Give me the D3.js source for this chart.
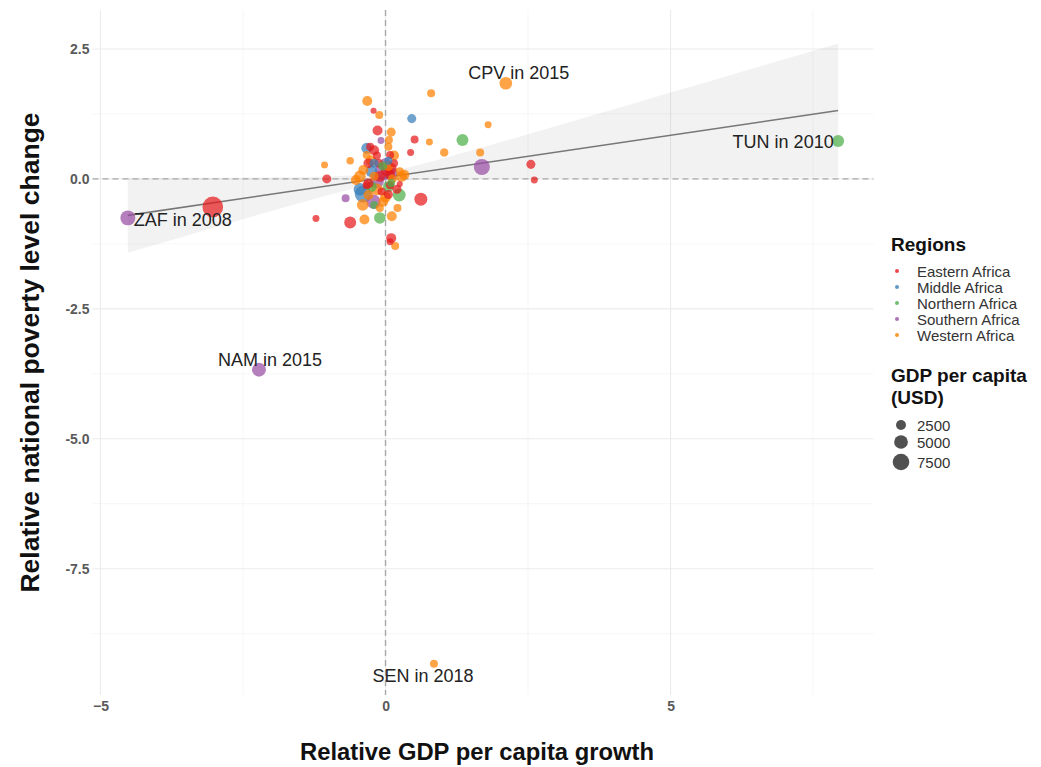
<!DOCTYPE html>
<html>
<head>
<meta charset="utf-8">
<script src="https://cdn.jsdelivr.net/npm/d3@7"></script>
<style>
  html, body { margin: 0; padding: 0; background: #fff; }
  svg { display: block; font-family: "Liberation Sans", Arial, Helvetica, sans-serif; }
</style>
</head>
<body>
<svg id="chart" width="1041" height="767"></svg>
<script>
// Regions and their palette (ColorBrewer Set1)
const regions = ["Eastern Africa", "Middle Africa", "Northern Africa", "Southern Africa", "Western Africa"];
const regionColors = ["#E41A1C", "#377EB8", "#4DAF4A", "#984EA3", "#FF7F00"];

// Each row: [relative GDP per capita growth, relative poverty change, GDP per capita (USD)]
const easternAfrica = [
  [-3.03, -0.54, 12000], [-0.21, 1.31, 800], [-0.14, 0.93, 2500], [0.51, 0.76, 1500],
  [0.44, 0.51, 1100], [2.55, 0.28, 2000], [2.61, -0.02, 1100], [-1.03, 0.00, 2000],
  [-1.22, -0.76, 1100], [-0.62, -0.84, 3700], [0.62, -0.39, 4400], [0.10, -1.14, 2500],
  [0.08, -1.21, 1100], [-0.27, 0.62, 1500], [-0.30, -0.09, 2500], [-0.07, -0.24, 1500],
  [0.25, -0.10, 800], [0.08, -0.12, 1500], [0.02, 0.17, 3700], [0.08, 0.08, 2500],
  [0.08, 0.46, 1500], [-0.33, -0.12, 1500], [-0.12, 0.30, 2000], [0.15, 0.30, 1500],
  [-0.15, 0.45, 1500], [-0.10, 0.05, 3000], [0.10, 0.20, 3000], [-0.20, 0.55, 2500],
  [0.05, -0.30, 2000], [-0.30, 0.30, 2500], [0.20, -0.20, 2000]
];
const middleAfrica = [
  [0.46, 1.16, 2000], [-0.33, 0.59, 3000], [-0.39, -0.29, 8000], [-0.20, 0.30, 2000],
  [0.05, 0.35, 1500], [-0.25, 0.15, 3500], [-0.45, -0.20, 4000]
];
const northernAfrica = [
  [7.94, 0.73, 3700], [1.35, 0.75, 3700], [0.24, -0.31, 4400], [-0.10, -0.75, 3400],
  [0.10, -0.08, 1500], [-0.20, -0.50, 1500], [-0.05, 0.25, 2000], [0.05, -0.15, 3000],
  [-0.25, -0.15, 3000]
];
const southernAfrica = [
  [-4.52, -0.75, 6000], [-2.22, -3.67, 5200], [1.69, 0.23, 7000], [-0.70, -0.37, 1500],
  [-0.08, 0.74, 1100], [-0.04, 0.14, 8000], [-0.21, -0.44, 5500], [0.00, 0.30, 3000],
  [-0.15, -0.05, 5000], [0.10, 0.10, 4500]
];
const westernAfrica = [
  [2.11, 1.84, 4200], [0.85, -9.33, 1500], [-0.32, 1.50, 2500], [-0.11, 1.23, 1500],
  [0.80, 1.65, 1500], [1.80, 1.04, 1100], [0.77, 0.71, 1100], [1.03, 0.51, 1700],
  [1.66, 0.51, 1500], [-0.62, 0.35, 1300], [-1.07, 0.27, 1100], [-0.52, -0.02, 2500],
  [-0.37, -0.78, 2500], [0.11, -0.72, 2500], [0.21, -0.56, 1500], [0.17, -1.29, 1500],
  [0.33, 0.08, 2500], [-0.30, -0.31, 2500], [-0.04, -0.44, 2500], [-0.10, -0.56, 1500],
  [0.06, 0.75, 1500], [0.05, 0.62, 1500], [-0.39, 0.17, 2500], [-0.33, 0.46, 1500],
  [0.12, 0.00, 2000], [-0.20, 0.05, 2000], [0.25, 0.15, 1500], [-0.45, 0.05, 3500],
  [-0.25, 0.35, 3000], [0.15, 0.45, 2500], [0.28, 0.05, 3000], [-0.15, -0.20, 3500],
  [0.00, -0.35, 3000], [-0.40, -0.50, 3500], [0.10, 0.90, 2000], [0.05, 0.25, 2500]
];
const regionSeries = [easternAfrica, middleAfrica, northernAfrica, southernAfrica, westernAfrica];

// Annotated country-years: label text and the point (region index, row index) it names
const labelTexts = ["CPV in 2015", "TUN in 2010", "ZAF in 2008", "NAM in 2015", "SEN in 2018"];
const labelPoints = [[4, 0], [2, 0], [3, 0], [3, 1], [4, 1]];

// Axis ticks
const xTicks = [-5, 0, 5];
const xMinor = [-2.5, 2.5, 7.5];
const yTicks = [2.5, 0, -2.5, -5, -7.5];
const yMinor = [1.25, -1.25, -3.75, -6.25, -8.75];
const yTickLabels = ["2.5", "0.0", "-2.5", "-5.0", "-7.5"];

// Size legend breaks
const sizeBreaks = [2500, 5000, 7500];

// Linear trend with its confidence band
const trendIntercept = 0.03;
const trendSlope = 0.162;
const bandCentre = -0.08;
const bandBase = 0.01;
const bandSpread = 0.0257;

// ---- layout ----
const svg = d3.select("#chart");
const panel = { left: 92.5, right: 873.5, top: 10, bottom: 695 };

const x = d3.scaleLinear().domain([-5.14, 8.56]).range([panel.left, panel.right]);
const y = d3.scaleLinear().domain([-9.93, 3.25]).range([panel.bottom, panel.top]);
const r = d3.scaleSqrt().domain([0, 10000]).range([0.5, 9.5]);
const color = d3.scaleOrdinal().domain(regions).range(regionColors);

const points = [];
regionSeries.forEach((rows, i) => rows.forEach((d, j) => points.push({
  region: regions[i], gx: d[0], py: d[1], gdp: d[2]
})));

// grid
const grid = svg.append("g");
grid.selectAll(".xmin").data(xMinor).join("line")
  .attr("x1", d => x(d)).attr("x2", d => x(d))
  .attr("y1", panel.top).attr("y2", panel.bottom)
  .attr("stroke", "#f4f4f4").attr("stroke-width", 0.8);
grid.selectAll(".ymin").data(yMinor).join("line")
  .attr("y1", d => y(d)).attr("y2", d => y(d))
  .attr("x1", panel.left).attr("x2", panel.right)
  .attr("stroke", "#f4f4f4").attr("stroke-width", 0.8);
grid.selectAll(".xmaj").data(xTicks).join("line")
  .attr("x1", d => x(d)).attr("x2", d => x(d))
  .attr("y1", panel.top).attr("y2", panel.bottom)
  .attr("stroke", "#ebebeb").attr("stroke-width", 1.1);
grid.selectAll(".ymaj").data(yTicks).join("line")
  .attr("y1", d => y(d)).attr("y2", d => y(d))
  .attr("x1", panel.left).attr("x2", panel.right)
  .attr("stroke", "#ebebeb").attr("stroke-width", 1.1);

// confidence band
const xExtent = d3.extent(points, d => d.gx);
const bandX = d3.range(0, 61).map(i => xExtent[0] + (xExtent[1] - xExtent[0]) * i / 60);
const fit = v => trendIntercept + trendSlope * v;
const half = v => Math.sqrt(bandBase + bandSpread * (v - bandCentre) ** 2);
svg.append("path")
  .datum(bandX)
  .attr("d", d3.area().x(v => x(v)).y0(v => y(fit(v) - half(v))).y1(v => y(fit(v) + half(v))))
  .attr("fill", "#999").attr("fill-opacity", 0.13);

// reference lines through the origin
svg.append("line")
  .attr("x1", x(0)).attr("x2", x(0)).attr("y1", panel.top).attr("y2", panel.bottom)
  .attr("stroke", "#a8a8a8").attr("stroke-width", 1.4).attr("stroke-dasharray", "6,4");
svg.append("line")
  .attr("x1", panel.left).attr("x2", panel.right).attr("y1", y(0)).attr("y2", y(0))
  .attr("stroke", "#a8a8a8").attr("stroke-width", 1.4).attr("stroke-dasharray", "6,4");

// trend line
svg.append("path")
  .datum(xExtent)
  .attr("d", d3.line().x(v => x(v)).y(v => y(fit(v))))
  .attr("stroke", "#777").attr("stroke-width", 1.6).attr("fill", "none");

// points, larger first so small ones stay visible
const sorted = points.slice().sort((a, b) => b.gdp - a.gdp);
svg.append("g").selectAll("circle").data(sorted).join("circle")
  .attr("cx", d => x(d.gx)).attr("cy", d => y(d.py)).attr("r", d => r(d.gdp))
  .attr("fill", d => color(d.region)).attr("fill-opacity", 0.72);

// labels
const labelNudge = [[13, -10], [-55, 1], [55, 2], [11, -10], [-11, 12]];
svg.append("g").selectAll("text").data(labelTexts).join("text")
  .attr("x", (t, i) => { const p = regionSeries[labelPoints[i][0]][labelPoints[i][1]]; return x(p[0]) + labelNudge[i][0]; })
  .attr("y", (t, i) => { const p = regionSeries[labelPoints[i][0]][labelPoints[i][1]]; return y(p[1]) + labelNudge[i][1]; })
  .attr("text-anchor", "middle").attr("dominant-baseline", "central")
  .attr("font-size", 18).attr("fill", "#222")
  .text(t => t);

// axis tick labels
const xAxis = svg.append("g").attr("transform", `translate(0,${panel.bottom})`)
  .call(d3.axisBottom(x).tickValues(xTicks).tickSize(0).tickPadding(6).tickFormat(d3.format("d")));
const yAxis = svg.append("g").attr("transform", `translate(${panel.left},0)`)
  .call(d3.axisLeft(y).tickValues(yTicks).tickSize(0).tickPadding(3).tickFormat((d, i) => yTickLabels[i]));
[xAxis, yAxis].forEach(a => {
  a.select(".domain").remove();
  a.selectAll("text").attr("font-size", 14).attr("font-weight", "bold").attr("fill", "#5a5a5a")
    .attr("font-family", "Liberation Sans, Arial, sans-serif");
});

// axis titles
svg.append("text")
  .attr("x", (panel.left + panel.right) / 2 - 6).attr("y", 760)
  .attr("text-anchor", "middle").attr("font-size", 23.8).attr("font-weight", "bold").attr("fill", "#111")
  .text("Relative GDP per capita growth");
svg.append("text")
  .attr("transform", `translate(39,${(panel.top + panel.bottom) / 2}) rotate(-90)`)
  .attr("text-anchor", "middle").attr("font-size", 26.5).attr("font-weight", "bold").attr("fill", "#111")
  .text("Relative national poverty level change");

// legend: regions
const lg = svg.append("g").attr("transform", "translate(891,0)");
lg.append("text").attr("x", 0).attr("y", 251).attr("font-size", 19).attr("font-weight", "bold").attr("fill", "#111").text("Regions");
const rows = lg.selectAll(".reg").data(regions).join("g").attr("transform", (d, i) => `translate(0,${271 + i * 16})`);
rows.append("circle").attr("cx", 6).attr("cy", 0).attr("r", 2).attr("fill", d => color(d)).attr("fill-opacity", 0.8);
rows.append("text").attr("x", 26).attr("y", 0).attr("dominant-baseline", "central")
  .attr("font-size", 15).attr("fill", "#333").text(d => d);

// legend: sizes
lg.append("text").attr("x", 0).attr("y", 382).attr("font-size", 19).attr("font-weight", "bold").attr("fill", "#111").text("GDP per capita");
lg.append("text").attr("x", 0).attr("y", 404).attr("font-size", 19).attr("font-weight", "bold").attr("fill", "#111").text("(USD)");
const srows = lg.selectAll(".sz").data(sizeBreaks).join("g").attr("transform", (d, i) => `translate(0,${[425, 442, 462][i]})`);
srows.append("circle").attr("cx", 10).attr("cy", 0).attr("r", d => r(d)).attr("fill", "#333").attr("fill-opacity", 0.85);
srows.append("text").attr("x", 26).attr("y", 0).attr("dominant-baseline", "central")
  .attr("font-size", 15).attr("fill", "#333").text(d => d);
</script>
</body>
</html>
